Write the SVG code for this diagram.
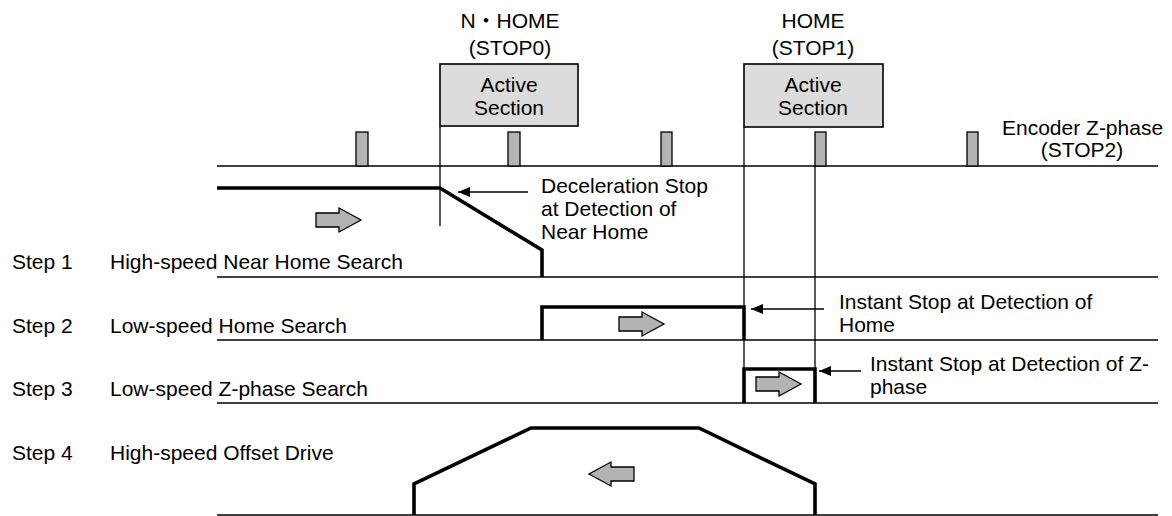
<svg xmlns="http://www.w3.org/2000/svg" width="1172" height="516" viewBox="0 0 1172 516">
<defs>
<style>
text{font-family:"Liberation Sans",Arial,"Noto Sans CJK JP",sans-serif;font-size:21px;fill:#000}
.c{text-anchor:middle}
.thin{stroke:#000;stroke-width:1.3;fill:none}
.base{stroke:#000;stroke-width:1.6;fill:none}
.thick{stroke:#000;stroke-width:3.6;fill:none;stroke-linejoin:miter}
.pulse{fill:#b3b3b3;stroke:#000;stroke-width:1.3}
.box{fill:#dcdcdc;stroke:#000;stroke-width:1.6}
.garrow{fill:#b3b3b3;stroke:#000;stroke-width:1.3;stroke-linejoin:miter}
</style>
<marker id="ah" markerWidth="12" markerHeight="10" refX="12" refY="5" orient="auto" markerUnits="userSpaceOnUse">
<path d="M0,0 L12,5 L0,10 Z" fill="#000"/>
</marker>
<path id="rarrow" d="M0,-7 L23,-7 L23,-12 L45,0 L23,12 L23,7 L0,7 Z"/>
</defs>

<g id="baselines">
<line class="base" x1="217" y1="166" x2="1158" y2="166"/>
<line class="base" x1="217" y1="277" x2="1158" y2="277"/>
<line class="base" x1="217" y1="340" x2="1158" y2="340"/>
<line class="base" x1="217" y1="403" x2="1158" y2="403"/>
<line class="base" x1="217" y1="515" x2="1158" y2="515"/>
</g>

<g id="pulses">
<rect class="pulse" x="356" y="132" width="12" height="34"/>
<rect class="pulse" x="508" y="132" width="12" height="34"/>
<rect class="pulse" x="661" y="132" width="11" height="34"/>
<rect class="pulse" x="815" y="132" width="11" height="34"/>
<rect class="pulse" x="967" y="132" width="11" height="34"/>
</g>

<g id="nhome">
<text class="c" x="510" y="28">N・HOME</text>
<text class="c" x="510" y="55">(STOP0)</text>
<rect class="box" x="440" y="64" width="138" height="62"/>
<text class="c" x="509" y="92">Active</text>
<text class="c" x="509" y="115">Section</text>
</g>

<g id="home">
<text class="c" x="813" y="28">HOME</text>
<text class="c" x="813" y="55">(STOP1)</text>
<rect class="box" x="744" y="64" width="139" height="63"/>
<text class="c" x="813" y="92">Active</text>
<text class="c" x="813" y="115">Section</text>
</g>

<g id="encoder">
<text x="1002" y="135">Encoder Z-phase</text>
<text class="c" x="1082" y="157">(STOP2)</text>
</g>

<g id="guides">
<line class="thin" x1="440" y1="126" x2="440" y2="226"/>
<line class="thin" x1="744" y1="127" x2="744" y2="403"/>
<line class="thin" x1="815" y1="166" x2="815" y2="403"/>
</g>

<g id="step1">
<text x="12" y="269">Step 1</text>
<text x="110" y="269">High-speed Near Home Search</text>
<polyline class="thick" points="217,188 440,188 542,250 542,277"/>
<use href="#rarrow" class="garrow" x="316" y="220"/>
</g>

<g id="step2">
<text x="12" y="333">Step 2</text>
<text x="110" y="333">Low-speed Home Search</text>
<polyline class="thick" points="542,340 542,307 744,307 744,340"/>
<use href="#rarrow" class="garrow" x="619" y="324"/>
</g>

<g id="step3">
<text x="12" y="396">Step 3</text>
<text x="110" y="396">Low-speed Z-phase Search</text>
<polyline class="thick" points="744,403 744,369 815,369 815,403"/>
<use href="#rarrow" class="garrow" x="756" y="384"/>
</g>

<g id="step4">
<text x="12" y="460">Step 4</text>
<text x="110" y="460">High-speed Offset Drive</text>
<polyline class="thick" points="414,515 414,484 531,428 699,428 815,484 815,515"/>
<use href="#rarrow" class="garrow" transform="translate(634,474) scale(-1,1)"/>
</g>

<g id="notes">
<text x="541" y="193">Deceleration Stop</text>
<text x="541" y="216">at Detection of</text>
<text x="541" y="239">Near Home</text>
<text x="839" y="309">Instant Stop at Detection of</text>
<text x="839" y="332">Home</text>
<text x="870" y="371">Instant Stop at Detection of Z-</text>
<text x="870" y="394">phase</text>
</g>

<g id="connectors">
<line class="thin" x1="528" y1="192" x2="458" y2="192" marker-end="url(#ah)"/>
<line class="thin" x1="824" y1="309" x2="751" y2="309" marker-end="url(#ah)"/>
<line class="thin" x1="861" y1="371" x2="819" y2="371" marker-end="url(#ah)"/>
</g>
</svg>
